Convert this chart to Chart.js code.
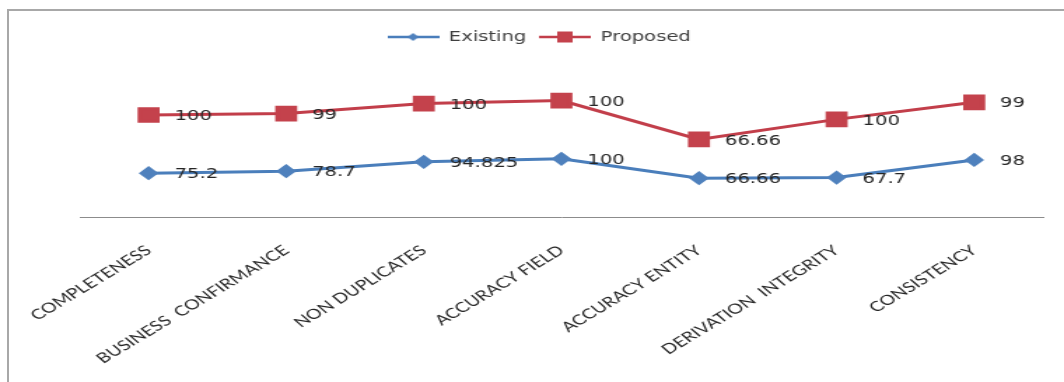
<!DOCTYPE html>
<html><head><meta charset="utf-8">
<script src="https://cdn.jsdelivr.net/npm/chart.js@4.4.1/dist/chart.umd.min.js"></script>
<style>
html,body{margin:0;padding:0;background:#fff;width:1064px;height:382px;overflow:hidden;}
#frame{position:absolute;left:7px;top:9px;width:1100px;height:420px;border-left:2px solid #a8a8a8;border-top:2px solid #a8a8a8;}
#wrap{position:absolute;left:0;top:0;width:760px;height:382px;transform:scaleX(1.4);transform-origin:0 0;}
</style></head><body>
<div id="frame"></div>
<div id="wrap"><canvas id="c" width="760" height="382"></canvas></div>
<script>
const categories = ['COMPLETENESS','BUSINESS  CONFIRMANCE','NON DUPLICATES','ACCURACY FIELD','ACCURACY ENTITY','DERIVATION  INTEGRITY','CONSISTENCY'];
const seriesNames = ['Existing','Proposed'];
const existing = [75.2, 78.7, 94.825, 100, 66.66, 67.7, 98];
const proposed = [100, 99, 100, 100, 66.66, 100, 99];

const blueLine = '#4A7EBB', blueMark = '#4F81BD';
const redLine = '#C23E4A', redMark = '#C4424C';

function makeIcon(kind){
  const c = document.createElement('canvas');
  c.width = 37; c.height = 14;
  const g = c.getContext('2d');
  g.strokeStyle = kind === 'diamond' ? blueLine : redLine;
  g.lineWidth = 2.5;
  g.beginPath(); g.moveTo(0,7); g.lineTo(37,7); g.stroke();
  if (kind === 'diamond') {
    g.fillStyle = blueMark;
    g.beginPath(); g.moveTo(18.5,3); g.lineTo(22.5,7); g.lineTo(18.5,11); g.lineTo(14.5,7); g.closePath(); g.fill();
  } else {
    g.fillStyle = redMark;
    g.fillRect(13,1.5,11,11);
  }
  return c;
}
const legendIcons = [makeIcon('diamond'), makeIcon('square')];

const valueLabels = {
  id:'valueLabels',
  afterDatasetsDraw(chart){
    const ctx = chart.ctx;
    ctx.save();
    ctx.font = '14px "DejaVu Sans"';
    ctx.fillStyle = '#262626';
    ctx.textAlign = 'left';
    ctx.textBaseline = 'middle';
    chart.data.datasets.forEach((ds,i)=>{
      const meta = chart.getDatasetMeta(i);
      meta.data.forEach((pt,j)=>{
        ctx.fillText(String(ds.data[j]), pt.x + 18.5, pt.y + 1.5);
      });
    });
    ctx.restore();
  }
};

new Chart(document.getElementById('c'), {
  type:'line',
  data:{
    labels: categories,
    datasets:[
      {label: seriesNames[0], data: existing, borderColor: blueLine, backgroundColor: blueMark,
       borderWidth:3, pointStyle:'rectRot', pointRadius:5, pointBorderColor: blueMark, pointBackgroundColor: blueMark, tension:0, fill:false},
      {label: seriesNames[1], data: proposed, borderColor: redLine, backgroundColor: redMark,
       borderWidth:3, pointStyle:'rect', pointRadius:9, pointBorderColor: redMark, pointBackgroundColor: redMark, tension:0, fill:false}
    ]
  },
  options:{
    responsive:false,
    animation:false,
    devicePixelRatio:1,
    layout:{padding:{left:25,right:15,top:21,bottom:0}},
    plugins:{
      tooltip:{enabled:false},
      legend:{
        position:'top', align:'center',
        labels:{
          usePointStyle:true, pointStyleWidth:37, padding:9, color:'#404040',
          font:{family:'DejaVu Sans', size:14},
          generateLabels(chart){
            return chart.data.datasets.map((ds,i)=>({
              text: ds.label, pointStyle: legendIcons[i], fillStyle: ds.borderColor,
              strokeStyle: ds.borderColor, lineWidth:0, hidden:false, datasetIndex:i, fontColor:'#404040'
            }));
          }
        }
      }
    },
    scales:{
      x:{
        offset:true,
        grid:{display:true, drawOnChartArea:false, drawTicks:false},
        border:{display:true, color:'#8c8c8c', width:1},
        ticks:{minRotation:40, maxRotation:40, autoSkip:false, padding:25, color:'#262626', font:{family:'Lato', size:14}},
        afterFit(scale){ scale.height = 165; scale.paddingLeft = 0; scale.paddingRight = 0; }
      },
      y:{
        stacked:true, min:0, max:280,
        grid:{display:false}, border:{display:false}, ticks:{display:false},
        afterFit(scale){ scale.width = 32; }
      }
    }
  },
  plugins:[valueLabels]
});
</script>
</body></html>
